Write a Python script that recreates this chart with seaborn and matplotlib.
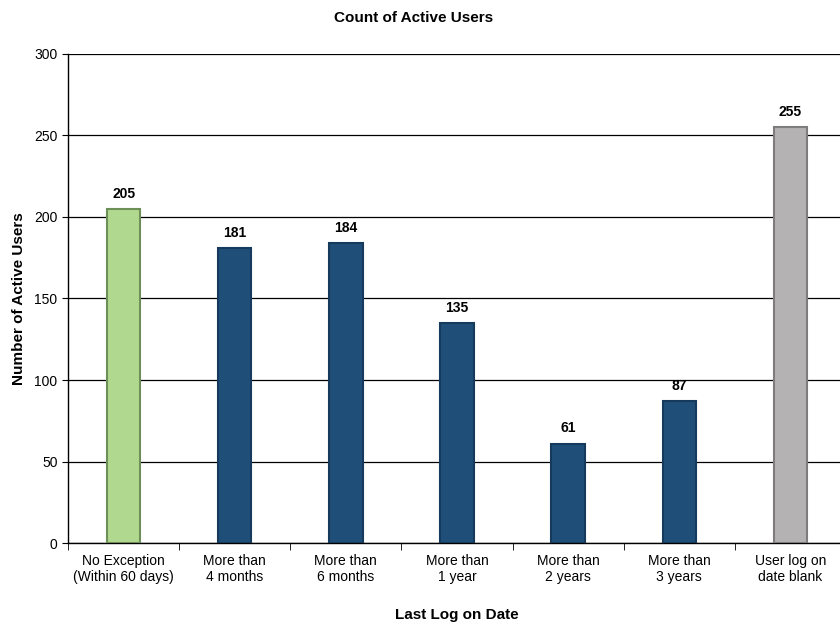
import numpy as np
import pandas as pd
import matplotlib
matplotlib.use("Agg")
import matplotlib.pyplot as plt
import seaborn as sns

categories = ["No Exception\n(Within 60 days)", "More than\n4 months", "More than\n6 months",
              "More than\n1 year", "More than\n2 years", "More than\n3 years",
              "User log on\ndate blank"]
counts = [205, 181, 184, 135, 61, 87, 255]
bar_colors = ["#b0d98f", "#1f4e79", "#1f4e79", "#1f4e79", "#1f4e79", "#1f4e79", "#b4b2b2"]
edge_colors = ["#6f8f58", "#163a5c", "#163a5c", "#163a5c", "#163a5c", "#163a5c", "#7e7c7c"]

sns.set_style("white")
plt.rcParams['font.family'] = ['Liberation Sans', 'DejaVu Sans']
plt.rcParams['text.color'] = 'black'
plt.rcParams['axes.labelcolor'] = 'black'
plt.rcParams['xtick.color'] = 'black'
plt.rcParams['ytick.color'] = 'black'

df = pd.DataFrame({"cat": categories, "n": counts})

fig = plt.figure(figsize=(8.4, 6.25), dpi=100)
ax = fig.add_axes([0.081, 0.131, 0.926, 0.783])

sns.barplot(data=df, x="cat", y="n", hue="cat", palette=bar_colors, legend=False,
            width=0.3, saturation=1, ax=ax, zorder=3)
for patch, ec in zip(ax.patches, edge_colors):
    patch.set_edgecolor(ec)
    patch.set_linewidth(1.5)

for i, v in enumerate(counts):
    ax.text(i, v + 5, str(v), ha="center", va="bottom", fontsize=10, fontweight="bold")

ax.set_ylim(0, 300)
ax.set_xlim(-0.5, 6.5)
ax.set_yticks(np.arange(0, 301, 50))
ax.yaxis.grid(True, color="black", linewidth=0.9, zorder=0)
ax.set_axisbelow(True)
ax.tick_params(axis="y", length=4, direction="out", left=True, labelsize=10)
ax.tick_params(axis="x", which="major", length=0, labelsize=10, pad=8)
ax.set_xticks(np.arange(-0.5, 6.6, 1), minor=True)
ax.tick_params(axis="x", which="minor", length=5, direction="out", bottom=True)

for s in ["top", "right"]:
    ax.spines[s].set_visible(False)
for s in ["left", "bottom"]:
    ax.spines[s].set_color("black")
    ax.spines[s].set_linewidth(1)

ax.set_xlabel("Last Log on Date", fontsize=11, fontweight="bold", labelpad=17)
ax.set_ylabel("Number of Active Users", fontsize=11, fontweight="bold", labelpad=6)
fig.suptitle("Count of Active Users", x=0.492, y=0.983, fontsize=11, fontweight="bold")

fig.savefig("out.png", dpi=100)
